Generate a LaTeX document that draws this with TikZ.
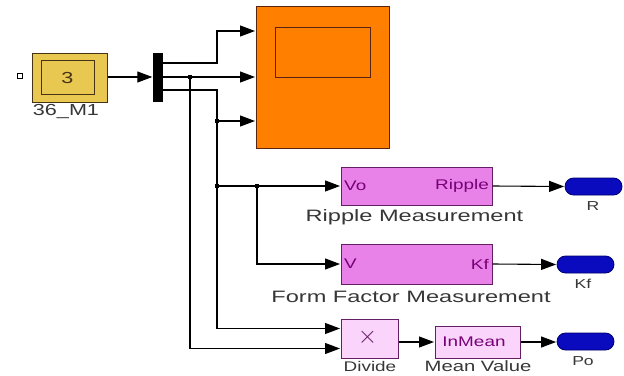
\documentclass[tikz,border=0pt]{standalone}
\usepackage{fontspec}
\setmainfont{Liberation Sans}
\newfontfamily\lblfont[FakeStretch=1.43]{Liberation Sans}
\newfontfamily\portfont[FakeStretch=1.35]{Liberation Sans}
\usetikzlibrary{arrows.meta}
\definecolor{srcfill}{RGB}{232,200,80}
\definecolor{srcdraw}{RGB}{70,50,20}
\definecolor{scopefill}{RGB}{255,128,0}
\definecolor{scopedraw}{RGB}{90,35,15}
\definecolor{purfill}{RGB}{232,130,232}
\definecolor{purdraw}{RGB}{100,30,100}
\definecolor{ltfill}{RGB}{250,212,250}
\definecolor{purtext}{RGB}{120,0,120}
\definecolor{outfill}{RGB}{10,10,190}
\definecolor{outdraw}{RGB}{0,0,110}
\definecolor{lbltext}{RGB}{55,55,55}
\tikzset{
  wire/.style={line width=1.1pt, draw=black},
  arr/.style={wire, -{Triangle[length=15pt,width=11pt]}, shorten >=0.5pt},
  blk/.style={draw, line width=1pt, minimum width=#1, inner sep=0pt},
  lbl/.style={text=lbltext, font=\lblfont\fontsize{16.5}{18}\selectfont, inner sep=0pt},
  plbl/.style={text=purtext, font=\portfont\fontsize{14}{16}\selectfont, inner sep=0pt},
  olbl/.style={text=lbltext, font=\portfont\fontsize{13}{15}\selectfont, inner sep=0pt},
  outp/.style={draw=outdraw, fill=outfill, line width=0.8pt, rounded corners=8.5pt,
    minimum width=57pt, minimum height=17pt, inner sep=0pt},
  dot/.style={fill=black, minimum size=3.5pt, inner sep=0pt}
}
\begin{document}
\begin{tikzpicture}[x=1pt,y=-1pt]
\useasboundingbox[fill=white] (0,0) rectangle (624,375);
% source block
\node[blk=75pt, minimum height=49pt, fill=srcfill, draw=srcdraw] (src) at (69.5,77.5) {};
\node[draw=srcdraw, line width=1pt, minimum width=53pt, minimum height=34pt, inner sep=0pt,
  font=\portfont\fontsize{16}{18}\selectfont, text=srcdraw] (srcin) at (67.5,77.5) {3};
\node[lbl, font=\portfont\fontsize{16}{18}\selectfont] (srclbl) at (66,112) {36\_M1};
\node[draw=black, line width=0.8pt, minimum size=5pt, inner sep=0pt] (sq) at (19.5,76) {};
% demux
\node[fill=black, minimum width=10pt, minimum height=49pt, inner sep=0pt] (dmx) at (158,77.5) {};
% scope
\node[blk=133pt, minimum height=142pt, fill=scopefill, draw=scopedraw] (scope) at (322.5,77) {};
\node[draw=scopedraw, line width=1pt, minimum width=95pt, minimum height=50pt, inner sep=0pt] (screen) at (322.5,52) {};
% ripple
\node[blk=151pt, minimum height=38pt, fill=purfill, draw=purdraw] (rip) at (416.5,186) {};
\node[plbl, anchor=west] (ripin) at (344,186) {Vo};
\node[plbl, anchor=east] (ripout) at (489,186) {Ripple};
\node[lbl] (riplbl) at (414.5,217) {Ripple Measurement};
% form factor
\node[blk=151pt, minimum height=40pt, fill=purfill, draw=purdraw] (ff) at (416.5,264) {};
\node[plbl, anchor=west] (ffin) at (344,264) {V};
\node[plbl, anchor=east] (ffout) at (489,264) {Kf};
\node[lbl] (fflbl) at (411,297) {Form Factor Measurement};
% divide
\node[blk=57pt, minimum height=39pt, fill=ltfill, draw=purdraw] (div) at (369.5,338.5) {};
\node[text=purdraw, font=\fontsize{24}{26}\selectfont, inner sep=0pt] (times) at (367.5,337) {$\times$};
\node[lbl, font=\portfont\fontsize{14}{16}\selectfont] (divlbl) at (370,366) {Divide};
% mean
\node[blk=85pt, minimum height=32pt, fill=ltfill, draw=purdraw] (mean) at (477.5,342) {};
\node[plbl, font=\portfont\fontsize{14}{16}\selectfont] (meantxt) at (474,342) {InMean};
\node[lbl, font=\portfont\fontsize{15}{17}\selectfont] (meanlbl) at (478,366) {Mean Value};
% outports
\node[outp] (oR) at (593.5,186.5) {};
\node[olbl] (oRl) at (593,206) {R};
\node[outp] (oK) at (585.5,264.5) {};
\node[olbl] (oKl) at (583,284) {Kf};
\node[outp] (oP) at (585.5,341.5) {};
\node[olbl] (oPl) at (583,361) {Po};
% junctions
\coordinate (ja) at (217,63);
\coordinate (jb) at (217,121);
\coordinate (jc) at (190,77);
\coordinate (jd) at (217,186);
\coordinate (je) at (257,186);
% wires
\draw[arr] (src.east |- 0,77) -- (dmx.west |- 0,77);
\draw[arr] (dmx.east |- ja) -- (ja) |- (scope.west |- 0,31);
\draw[arr] (dmx.east |- jc) -- (scope.west |- jc);
\draw[arr] (dmx.east |- 0,90) -| (jb) -- (scope.west |- jb);
\draw[arr] (jb) |- (div.west |- 0,328.5);
\draw[arr] (jc) |- (div.west |- 0,348.5);
\draw[arr] (jd) -- (rip.west |- jd);
\draw[arr] (je) |- (ff.west);
\draw[arr] (rip.east |- 0,186) -- (oR.west);
\draw[arr] (ff.east) -- (oK.west);
\draw[arr] (div.east |- mean) -- (mean.west);
\draw[arr] (mean.east) -- (oP.west |- mean);
\node[dot] at (jb) {};
\node[dot] at (jc) {};
\node[dot] at (jd) {};
\node[dot] at (je) {};
\end{tikzpicture}
\end{document}
